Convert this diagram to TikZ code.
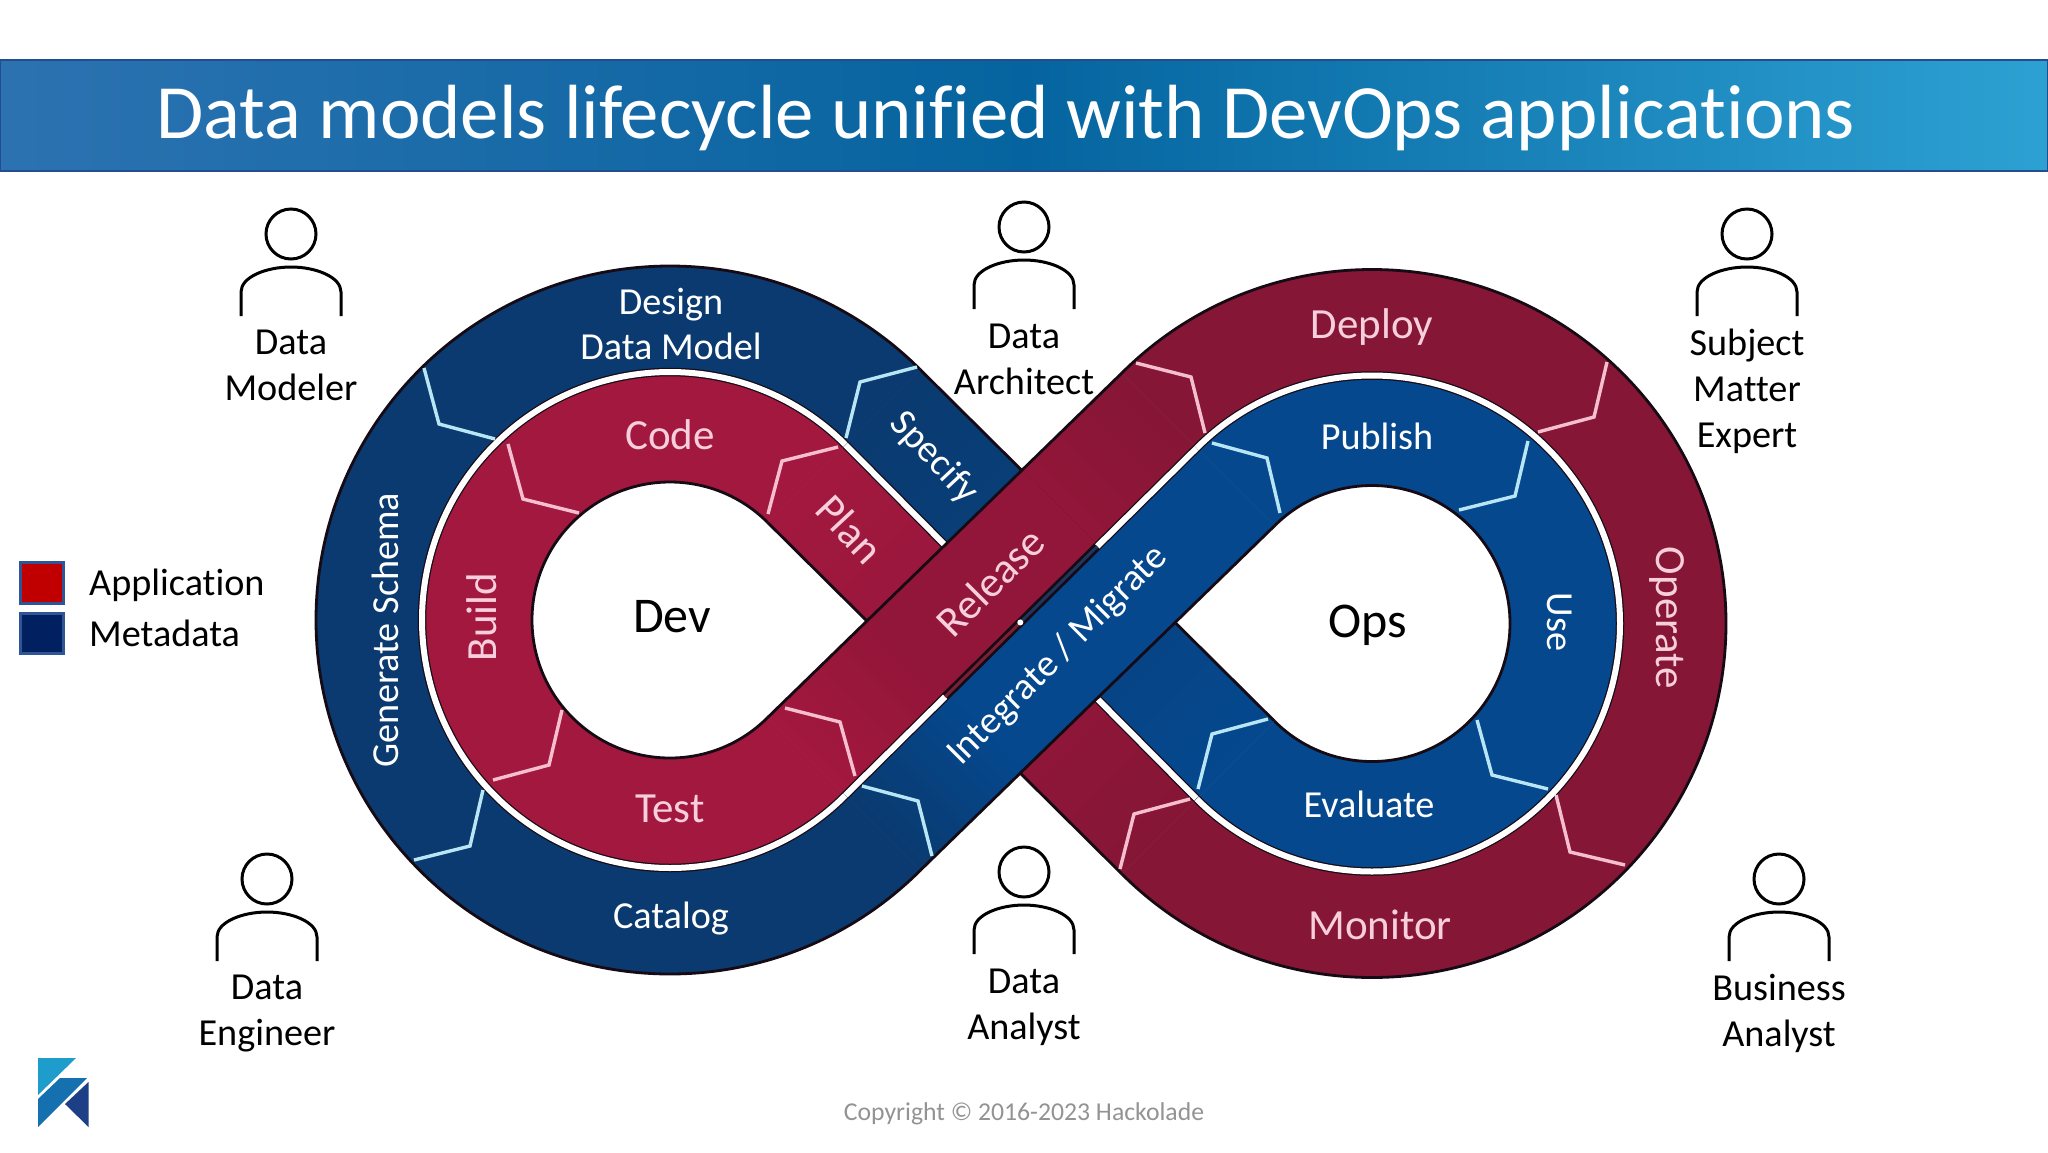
\documentclass[tikz,border=0pt]{standalone}
\usepackage{fontspec}
\setmainfont[Ligatures=CommonOff]{Carlito}
\usetikzlibrary{calc}
\definecolor{edgec}{HTML}{160A14}
\definecolor{blueA}{HTML}{0A3A6F}
\definecolor{blueB}{HTML}{05488E}
\definecolor{redA}{HTML}{A3183F}
\definecolor{redB}{HTML}{861636}
\definecolor{redC}{HTML}{921639}
\definecolor{pinkT}{HTML}{F7CFDC}
\definecolor{chevB}{HTML}{B8E6F4}
\definecolor{chevR}{HTML}{F6BFD0}
\definecolor{titleL}{HTML}{2C72B1}
\definecolor{titleM}{HTML}{05649F}
\definecolor{titleR}{HTML}{2DA1D3}
\definecolor{titleE}{HTML}{234D8C}
\definecolor{crossR}{HTML}{7A2034}
\definecolor{crossB}{HTML}{1E3560}
\definecolor{legE}{HTML}{2F5597}
\definecolor{legR}{HTML}{C00000}
\definecolor{legB}{HTML}{002060}
\definecolor{logoA}{HTML}{1E9CCB}
\definecolor{logoB}{HTML}{1470AE}
\definecolor{logoC}{HTML}{1C3F85}
\tikzset{
  x=1pt,y=1pt,
  edgeline/.style={draw=edgec,line width=2.8pt},
  chevblue/.style={draw=chevB,line width=3.4pt,line join=miter},
  chevred/.style={draw=chevR,line width=3.4pt,line join=miter},
  ringtext/.style={font=\fontsize{38.2}{38}\selectfont,inner sep=0pt},
  whitelab/.style={ringtext,text=white},
  pinklab/.style={font=\fontsize{43}{43}\selectfont,inner sep=0pt,text=pinkT},
  holelab/.style={font=\fontsize{50}{50}\selectfont,inner sep=0pt,text=black},
  personlab/.style={font=\fontsize{38.2}{46}\selectfont,align=center,inner sep=0pt,text=black},
  legendsq/.style={draw=legE,line width=3pt},
  persona/.style={draw=black,line width=3pt,fill=none},
}
\newcommand{\ringsector}[6]{%
  \fill[#1,draw=#1,line width=.6pt,shift={(#2)}] (#3:#5) arc[start angle=#3,end angle=#4,radius=#5] -- (#4:#6) arc[start angle=#4,end angle=#3,radius=#6] -- cycle;}
\newcommand{\personicon}[2]{%
  \begin{scope}[shift={(#1,-#2)}]
  \draw[persona] (0,0) circle[radius=25];
  \draw[persona] (-50,-82) -- (-50,-58) .. controls (-50,-43) and (-25,-33) .. (0,-33) .. controls (25,-33) and (50,-43) .. (50,-58) -- (50,-82);
  \end{scope}}
\newcommand{\chev}[7]{\draw[#1] (#2,-#3) -- (#4,-#5) -- (#6,-#7);}
% colour-graded strip: #1 to #2 along the edges (#3)-(#4) and (#5)-(#6)
\newcommand{\gradstrip}[6]{%
  \foreach \k in {0,...,39}{%
    \pgfmathsetmacro{\fa}{\k/40}%
    \pgfmathsetmacro{\fb}{(\k+1.3)/40}%
    \pgfmathsetmacro{\fc}{min(\fb,1)}%
    \pgfmathsetmacro{\pc}{100*(\k+.5)/40}%
    \fill[#2!\pc!#1] ($(#3)!\fa!(#4)$) -- ($(#3)!\fc!(#4)$) -- ($(#5)!\fc!(#6)$) -- ($(#5)!\fa!(#6)$) -- cycle;
  }}
\begin{document}
\begin{tikzpicture}
\useasboundingbox (0,0) rectangle (2048,-1152);
\fill[white] (0,0) rectangle (2048,-1152);
% title bar
\shade[left color=titleL,right color=titleR,middle color=titleM] (0,-60) rectangle (2048,-171);
\draw[draw=titleE,line width=2.4pt] (0,-60) rectangle (2048,-171);
\node[font=\fontsize{76.8}{77}\selectfont,text=white,inner sep=0pt] (title) at (1006,-118.5) {Data models lifecycle unified with DevOps applications};
% geometry
\coordinate (CL) at (670,-620);
\coordinate (CR) at (1372,-623.5);
\begin{scope}[shift={(CL)}]
 \coordinate (Li45) at (45:138); \coordinate (Lm45) at (45:248); \coordinate (Lo45) at (45:354);
 \coordinate (Li315) at (315:138); \coordinate (Lm315) at (315:248); \coordinate (Lo315) at (315:354);
\end{scope}
\begin{scope}[shift={(CR)}]
 \coordinate (Ri135) at (135:138); \coordinate (Rm135) at (135:248); \coordinate (Ro135) at (135:354);
 \coordinate (Ri225) at (225:138); \coordinate (Rm225) at (225:248); \coordinate (Ro225) at (225:354);
\end{scope}
% quick colour change along the upper strips
\coordinate (Ua) at ($(Li315)!.3!(Ro135)$);
\coordinate (Ub) at ($(Lm315)!.3!(Rm135)$);
\coordinate (Uc) at ($(Lo315)!.3!(Ri135)$);
\coordinate (Ud) at ($(Li315)!.72!(Ro135)$);
\coordinate (Ue) at ($(Lm315)!.72!(Rm135)$);
% lower strips
\gradstrip{blueA}{blueB}{Lo45}{Ri225}{Lm45}{Rm225}
\gradstrip{redA}{redB}{Li45}{Ro225}{Lm45}{Rm225}
\draw[edgeline] (Lo45) -- (Ri225);
\draw[edgeline] (Li45) -- (Ro225);
\draw[edgec,line width=8.5pt] (Lm45) -- (Rm225);
\draw[white,line width=6pt] (Lm45) -- (Rm225);
% loops
\ringsector{blueA}{CL}{45}{315}{248}{354}
\ringsector{redA}{CL}{45}{315}{138}{248}
\ringsector{blueB}{CR}{-135}{135}{138}{248}
\ringsector{redB}{CR}{-135}{135}{248}{354}
% upper strips
\gradstrip{redA}{redC}{Li315}{Ua}{Lm315}{Ub}
\fill[redC] (Ua) -- (Ud) -- (Ue) -- (Ub) -- cycle;
\gradstrip{redC}{redB}{Ud}{Ro135}{Ue}{Rm135}
\gradstrip{blueA}{blueB}{Lo315}{Uc}{Lm315}{Ub}
\fill[blueB] (Uc) -- (Ri135) -- (Rm135) -- (Ub) -- cycle;
\draw[edgeline] (Li315) -- (Ro135);
\draw[edgeline] (Lo315) -- (Ri135);
\draw[edgec,line width=8.5pt] (Lm315) -- (Rm135);
\coordinate (XA) at ($(Lm315)!.284!(Rm135)$);
\coordinate (XB) at ($(Lm315)!.498!(Rm135)$);
\coordinate (XC) at ($(Lm315)!.717!(Rm135)$);
\draw[white,line width=6pt] (Lm315) -- (XA);
\draw[white,line width=6pt] (XC) -- (Rm135);
\draw[crossR,line width=3pt] (XA) -- (XB);
\draw[crossB,line width=3pt] (XB) -- (XC);
\fill[white] (XB) circle[radius=3];
% arcs
\begin{scope}[shift={(CL)}]
 \draw[edgeline] (45:138) arc[start angle=45,end angle=315,radius=138];
 \draw[edgeline] (45:354) arc[start angle=45,end angle=315,radius=354];
 \draw[edgec,line width=8.5pt] (45:248) arc[start angle=45,end angle=315,radius=248];
 \draw[white,line width=6pt] (45:248) arc[start angle=45,end angle=315,radius=248];
\end{scope}
\begin{scope}[shift={(CR)}]
 \draw[edgeline] (135:138) arc[start angle=135,end angle=-135,radius=138];
 \draw[edgeline] (135:354) arc[start angle=135,end angle=-135,radius=354];
 \draw[edgec,line width=8.5pt] (135:248) arc[start angle=135,end angle=-135,radius=248];
 \draw[white,line width=6pt] (135:248) arc[start angle=135,end angle=-135,radius=248];
\end{scope}
% chevrons
\chev{chevblue}{424}{368}{439}{424}{495}{439}
\chev{chevblue}{917}{367}{860}{382}{846}{438}
\chev{chevred}{838}{447}{782}{461}{768}{514}
\chev{chevred}{508}{444}{523}{499}{579}{513}
\chev{chevred}{562}{710}{549}{765}{493}{780}
\chev{chevblue}{483}{790}{470}{846}{414}{860}
\chev{chevred}{785}{708}{840}{722}{855}{776}
\chev{chevblue}{862}{786}{918}{801}{932}{856}
\chev{chevred}{1136}{363}{1191}{377}{1205}{433}
\chev{chevblue}{1212}{443}{1267}{458}{1280}{513}
\chev{chevred}{1607}{362}{1594}{417}{1538}{432}
\chev{chevblue}{1528}{441}{1515}{496}{1459}{510}
\chev{chevblue}{1477}{720}{1492}{775}{1548}{789}
\chev{chevred}{1556}{795}{1570}{852}{1625}{865}
\chev{chevblue}{1268}{719}{1212}{734}{1198}{789}
\chev{chevred}{1190}{799}{1134}{814}{1120}{869}
% ring labels
\node[whitelab,align=center,font=\fontsize{38.2}{45}\selectfont] (design) at (671,-324) {Design\\Data Model};
\node[whitelab,rotate=90] (schema) at (385,-630) {Generate Schema};
\node[whitelab] (catalog) at (671,-919) {Catalog};
\node[whitelab,rotate=-47] (specify) at (934,-458) {Specify};
\node[pinklab] (code) at (670,-435) {Code};
\node[pinklab,rotate=-47] (plan) at (850,-529) {Plan};
\node[pinklab,rotate=90] (build) at (482,-617) {Build};
\node[pinklab] (test) at (670,-809) {Test};
\node[holelab] (dev) at (672,-617) {Dev};
\node[holelab] (ops) at (1368,-625) {Ops};
\node[pinklab,rotate=45] (release) at (990,-582) {Release};
\node[whitelab,rotate=45] (integrate) at (1058,-656) {Integrate / Migrate};
\node[pinklab] (deploy) at (1372,-327) {Deploy};
\node[whitelab] (publish) at (1377,-436) {Publish};
\node[whitelab,rotate=-90] (use) at (1560,-622) {Use};
\node[pinklab,rotate=-90] (operate) at (1667,-618) {Operate};
\node[whitelab] (evaluate) at (1369,-804) {Evaluate};
\node[pinklab] (monitor) at (1380,-925) {Monitor};
% people
\personicon{291}{234}
\personicon{1024}{227}
\personicon{1747}{234}
\personicon{267}{879}
\personicon{1024}{872}
\personicon{1779}{879}
\node[personlab] (pa) at (291,-365) {Data\\Modeler};
\node[personlab] (pb) at (1024,-359) {Data\\Architect};
\node[personlab] (pc) at (1747,-391) {Subject\\Matter\\Expert};
\node[personlab] (pd) at (267,-1014) {Data\\Engineer};
\node[personlab] (pe) at (1024,-1007) {Data\\Analyst};
\node[personlab] (pf) at (1779,-1013) {Business\\Analyst};
% legend
\filldraw[legendsq,fill=legR] (20.5,-562) rectangle (63,-603);
\filldraw[legendsq,fill=legB] (20.5,-613) rectangle (63,-653);
\node[ringtext,text=black,anchor=west] (app) at (89,-585) {Application};
\node[ringtext,text=black,anchor=west] (meta) at (89,-633) {Metadata};
% logo
\fill[logoA] (38,-1058) -- (76,-1058) -- (38,-1095) -- cycle;
\fill[logoB] (38,-1099) -- (60,-1078) -- (87,-1078) -- (38,-1127) -- cycle;
\fill[logoC] (88.5,-1082) -- (88.5,-1127) -- (65,-1104) -- cycle;
% footer
\node[font=\fontsize{25.7}{26}\selectfont,text=gray!85!white,inner sep=0pt] (copy) at (1024,-1114) {Copyright © 2016-2023 Hackolade};
\end{tikzpicture}
\end{document}
